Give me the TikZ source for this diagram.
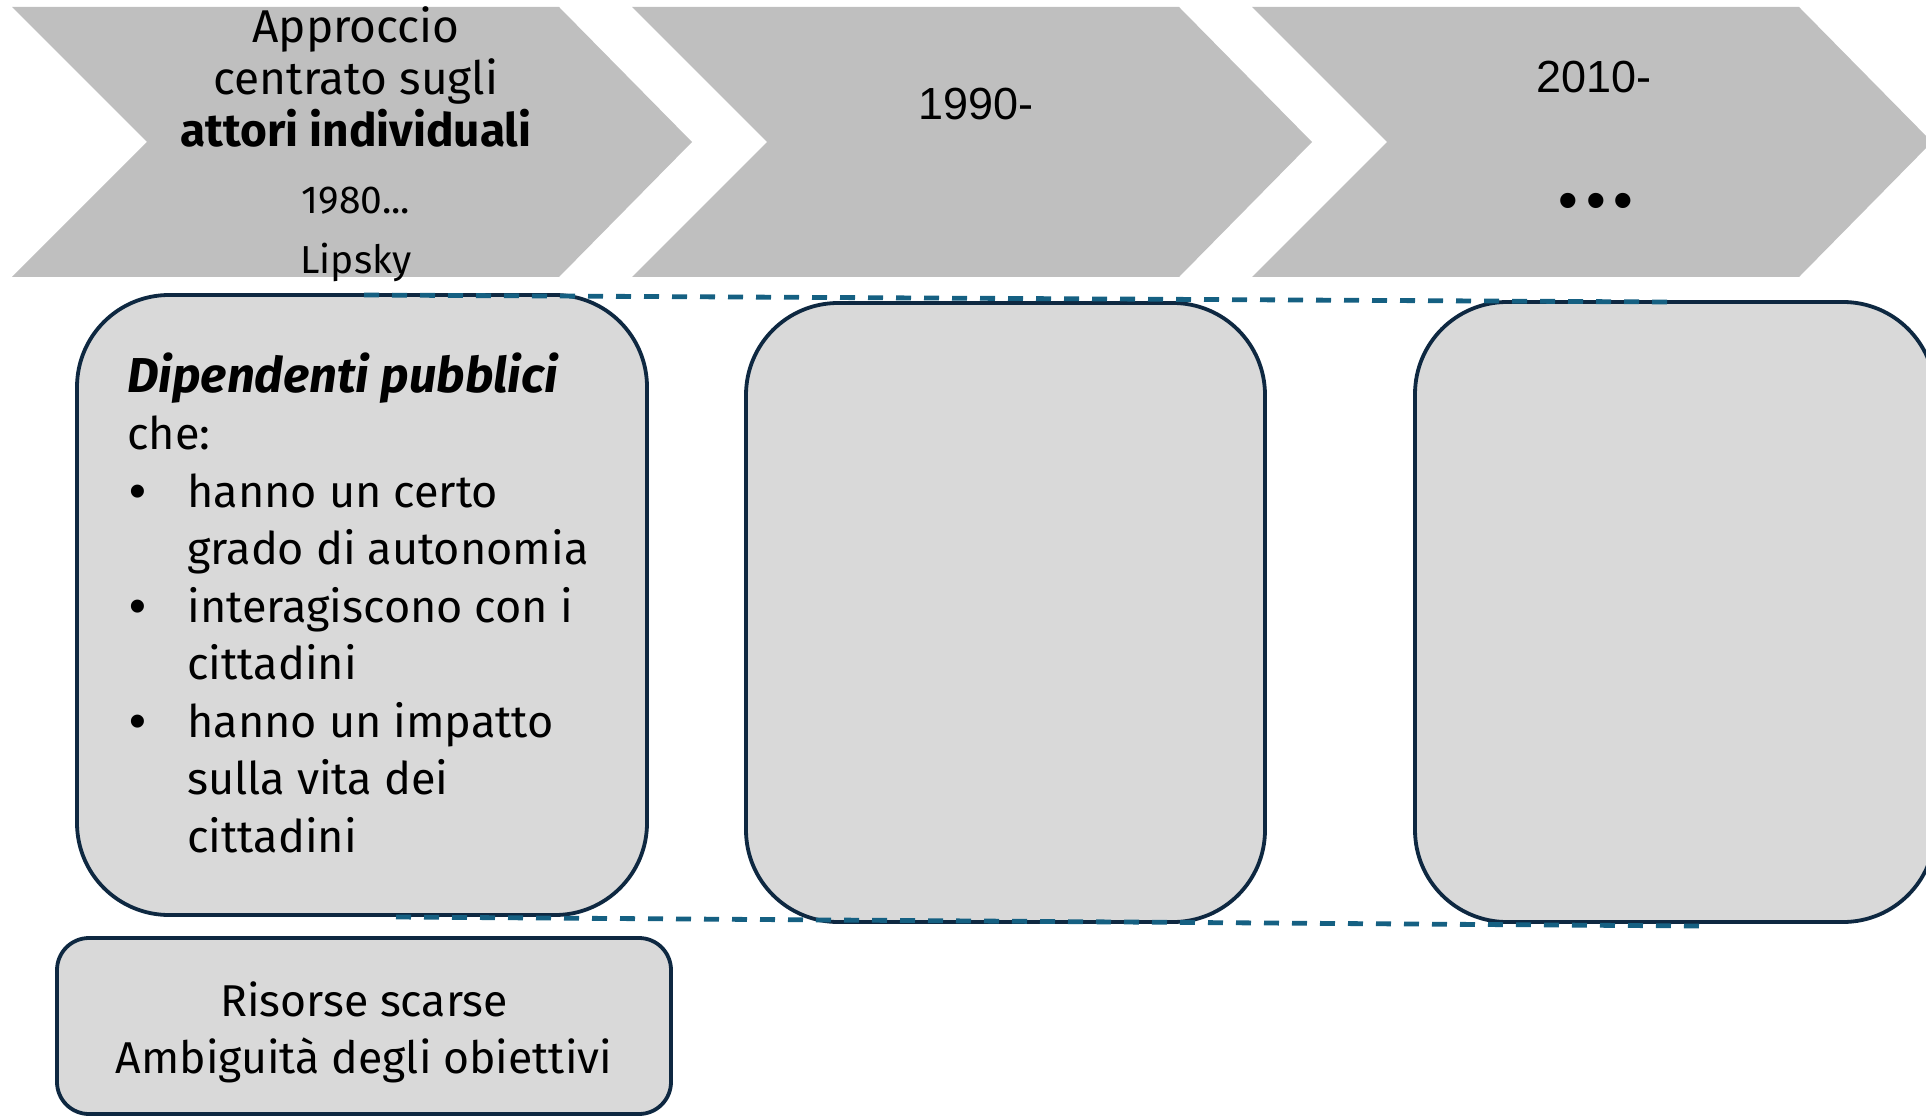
\documentclass[tikz,border=0pt]{standalone}
\usepackage{fontspec}
\setmainfont{Fira Sans}
\newfontfamily\yearfont{Liberation Sans}
\definecolor{chevfill}{HTML}{BFBFBF}
\definecolor{cardfill}{HTML}{D9D9D9}
\definecolor{cardline}{HTML}{0E2841}
\definecolor{guideblue}{HTML}{156082}
\newcommand{\blt}{\makebox[30pt][l]{\hspace{1pt}{\yearfont\fontsize{24}{24}\selectfont\textbullet}}}
\newcommand{\ind}{\hspace*{30pt}}

\begin{document}
\begin{tikzpicture}
[x=0.5pt,y=-0.5pt
,chev/.style={fill=chevfill}
,card/.style={draw=cardline,fill=cardfill,line width=1.9pt,rounded corners=46pt,inner sep=0pt}
,note/.style={card,rounded corners=16pt}
,guide/.style={draw=guideblue,line width=2.4pt,dash pattern=on 7.5pt off 6.5pt}
,lbl/.style={inner sep=0pt,align=center,font=\fontsize{23}{26}\selectfont}
,small/.style={lbl,font=\fontsize{19.5}{30}\selectfont}
,year/.style={inner sep=0pt,font=\yearfont\fontsize{22.5}{27}\selectfont}
,body/.style={inner sep=0pt,align=left,font=\fontsize{22.5}{28.75}\selectfont}
]
\path[use as bounding box] (0,0) rectangle (1926,1117);
\foreach \i in {0,1,2}
  \fill[chev] ({12+620*\i},7) -- ({559+620*\i},7) -- ({692+620*\i},142)
    -- ({559+620*\i},277) -- ({12+620*\i},277) -- ({147+620*\i},142) -- cycle;
\node[lbl] (ch1) at (356,77) {Approccio\\centrato sugli\\\textbf{attori individuali}};
\node[small] (ch1sub) at (356,234) {1980...\\Lipsky};
\node[year] (ch2) at (976,104) {1990-};
\node[year] (ch3) at (1594,77) {2010-};
\node[year] (ch3sub) at (1596,206) {\fontsize{28}{28}\selectfont\textbullet\hspace{4pt}\textbullet\hspace{4pt}\textbullet};
\node[card,minimum width=285pt,minimum height=310pt] (box1) at (362,605) {};
\node[card,minimum width=259.5pt,minimum height=309.5pt] (box2) at (1005.5,612.5) {};
\node[card,minimum width=260pt,minimum height=310pt] (box3) at (1675,612) {};
\node[note,minimum width=307pt,minimum height=88pt] (box4) at (364,1026) {};
\node[body,anchor=north west] (list) at (127,352) {{\fontsize{24.5}{28.75}\selectfont\textbf{\textit{Dipendenti pubblici}}}\\che:\\
  \blt hanno un certo\\\ind grado di autonomia\\
  \blt interagiscono con i\\\ind cittadini\\
  \blt hanno un impatto\\\ind sulla vita dei\\\ind cittadini};
\node[body,align=center,font=\fontsize{22.3}{28.5}\selectfont] (cause) at (364,1032) {Risorse scarse\\Ambiguità degli obiettivi};
\coordinate (top1) at (364,295);
\coordinate (top2) at (1667,302);
\coordinate (bot1) at (396,917);
\coordinate (bot2) at (1699,926);
\draw[guide] (top1) -- (top2);
\draw[guide] (bot1) -- (bot2);
\end{tikzpicture}
\end{document}
